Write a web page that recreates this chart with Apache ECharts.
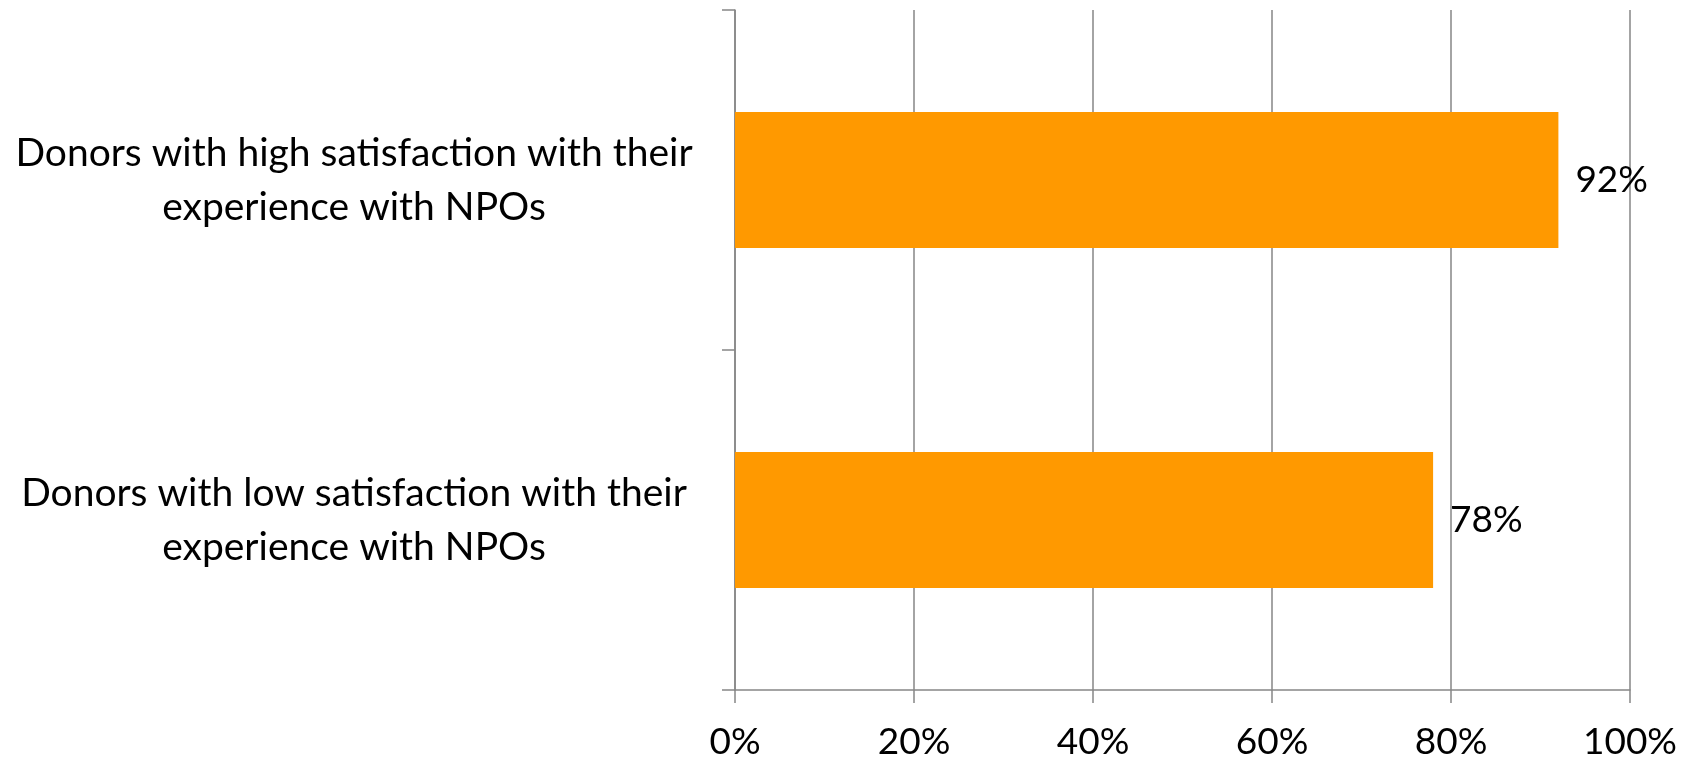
<!DOCTYPE html>
<html><head><meta charset="utf-8">
<script src="https://cdn.jsdelivr.net/npm/echarts@6/dist/echarts.min.js"></script>
<style>html,body{margin:0;padding:0;background:#fff}#c{width:1692px;height:762px}</style>
</head><body><div id="c"></div>
<script>
const categories = ["Donors with low satisfaction with their\nexperience with NPOs", "Donors with high satisfaction with their\nexperience with NPOs"];
const values = [78, 92];
const xTicks = [0, 20, 40, 60, 80, 100];

const chart = echarts.init(document.getElementById('c'));
const font = 'Lato, "Open Sans", sans-serif';
chart.setOption({
  animation: false,
  grid: {left: 735, right: 62, top: 10, bottom: 72, containLabel: false},
  xAxis: {
    type: 'value', min: xTicks[0], max: xTicks[xTicks.length-1], interval: 20,
    axisLine: {show: true, lineStyle: {color: '#868686', width: 1.5}},
    axisTick: {show: true, length: 13, lineStyle: {color: '#868686', width: 1.5}},
    splitLine: {show: true, lineStyle: {color: '#868686', width: 1.5}},
    axisLabel: {formatter: '{value}%', color: '#000', fontSize: 37, fontFamily: font, margin: 34}
  },
  yAxis: {
    type: 'category', data: categories,
    axisLine: {show: true, lineStyle: {color: '#868686', width: 1.5}},
    axisTick: {show: true, length: 13, lineStyle: {color: '#868686', width: 1.5}},
    splitLine: {show: false},
    axisLabel: {color: '#000', fontSize: 39, fontFamily: font, align: 'center', margin: 381, lineHeight: 54}
  },
  series: [{
    type: 'bar', data: values, barWidth: '40%',
    itemStyle: {color: '#FF9900'},
    label: {show: true, position: 'right', distance: 17, formatter: '{c}%', color: '#000', fontSize: 37, fontFamily: font}
  }]
});
</script></body></html>
